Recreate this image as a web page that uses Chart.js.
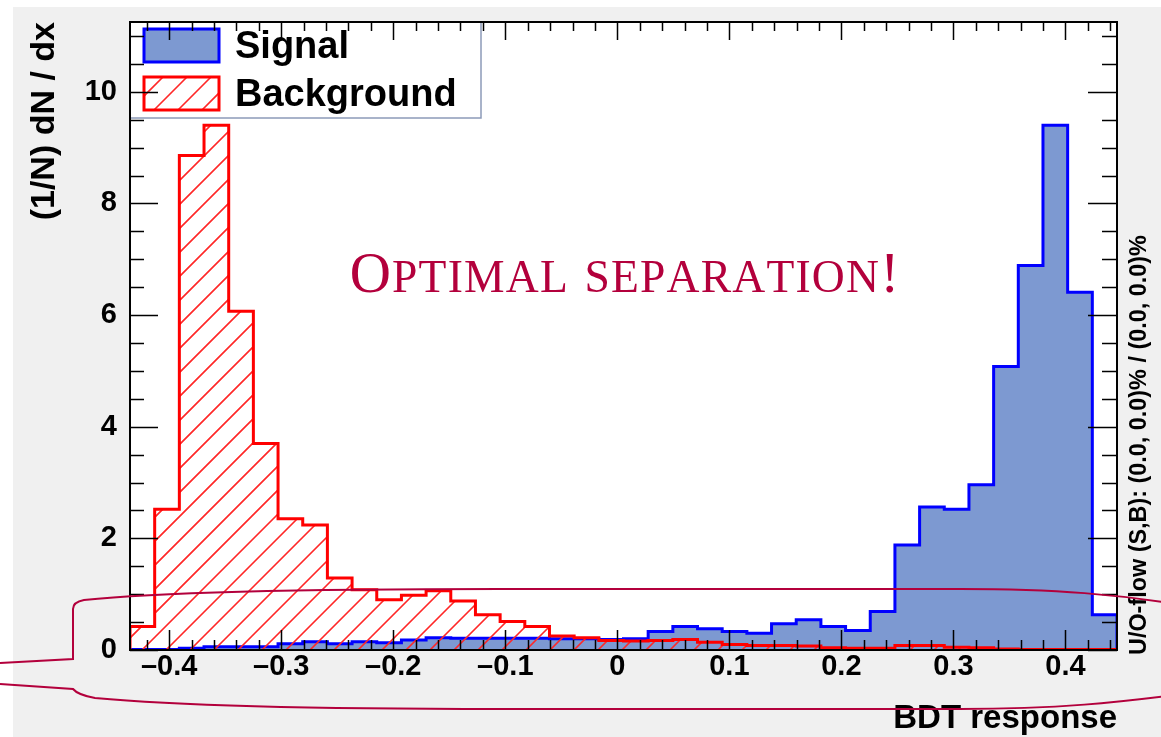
<!DOCTYPE html>
<html>
<head>
<meta charset="utf-8">
<title>BDT response</title>
<script src="https://cdn.jsdelivr.net/npm/chart.js@4.4.1/dist/chart.umd.min.js"></script>
<style>
  html, body { margin: 0; padding: 0; background: #fff; }
  canvas { display: block; }
</style>
</head>
<body>
<canvas id="bdtChart" width="1161" height="737"></canvas>
<script>
// BDT output, 40 bins between xMin and xMax
const xMin = -0.435;
const xMax = 0.446;

const seriesNames = ["Signal", "Background"];

const signalValues = [
  0.01, 0.01, 0.03, 0.06, 0.06, 0.06, 0.11, 0.15, 0.11, 0.15,
  0.13, 0.18, 0.22, 0.21, 0.21, 0.21, 0.21, 0.20, 0.20, 0.19,
  0.20, 0.33, 0.42, 0.38, 0.33, 0.30, 0.47, 0.54, 0.42, 0.35,
  0.69, 1.88, 2.56, 2.52, 2.96, 5.08, 6.89, 9.40, 6.41, 0.63
];

const backgroundValues = [
  0.42, 2.52, 8.86, 9.40, 6.07, 3.70, 2.35, 2.24, 1.29, 1.08,
  0.90, 0.98, 1.06, 0.88, 0.63, 0.51, 0.42, 0.25, 0.22, 0.17,
  0.16, 0.17, 0.19, 0.14, 0.10, 0.08, 0.08, 0.07, 0.04, 0.03,
  0.03, 0.08, 0.08, 0.05, 0.04, 0.02, 0.01, 0.01, 0.01, 0.01
];

const xTickValues = [-0.4, -0.3, -0.2, -0.1, 0, 0.1, 0.2, 0.3, 0.4];
const yTickValues = [0, 2, 4, 6, 8, 10];
const yMax = 11.25;

const xTitle = "BDT response";
const yTitle = "(1/N) dN / dx";
const flowText = "U/O-flow (S,B): (0.0, 0.0)% / (0.0, 0.0)%";
const noteText = "Optimal separation!";

const FONT = "'Liberation Sans', Arial, Helvetica, sans-serif";
const CRIMSON = "#b3003c";
const HATCH_STEP = 24;

// histogram outline: one point per lower bin edge, stepped
function histPoints(values) {
  const w = (xMax - xMin) / values.length;
  const pts = [{ x: xMin, y: 0 }];
  values.forEach((v, i) => pts.push({ x: xMin + i * w, y: v }));
  pts.push({ x: xMax, y: values[values.length - 1] });
  pts.push({ x: xMax, y: 0 });
  return pts;
}

// "/" hatching inside the current clip
function hatchLines(ctx, x0, y0, x1, y1) {
  ctx.save();
  ctx.strokeStyle = "rgb(255, 40, 40)";
  ctx.lineWidth = 1.6;
  ctx.beginPath();
  const cStart = Math.floor((x0 + y0) / HATCH_STEP) * HATCH_STEP;
  for (let c = cStart; c <= x1 + y1 + HATCH_STEP; c += HATCH_STEP) {
    ctx.moveTo(c - y1, y1);
    ctx.lineTo(c - y0, y0);
  }
  ctx.stroke();
  ctx.restore();
}

const decorPlugin = {
  id: "decor",
  beforeDraw(chart) {
    const ctx = chart.ctx;
    const a = chart.chartArea;
    ctx.save();
    ctx.fillStyle = "#f0f0f0";
    ctx.fillRect(13, 7, chart.width - 13, chart.height - 7);
    ctx.fillStyle = "#ffffff";
    ctx.fillRect(a.left, a.top, a.right - a.left, a.bottom - a.top);
    ctx.restore();
  },
  beforeDatasetDraw(chart, args) {
    const ds = chart.data.datasets[args.index];
    if (!ds.hatched) return;
    const ctx = chart.ctx;
    const a = chart.chartArea;
    ctx.save();
    ctx.beginPath();
    ctx.rect(a.left, a.top, a.right - a.left, a.bottom - a.top);
    ctx.clip();
    ctx.beginPath();
    args.meta.dataset.path(ctx);
    ctx.closePath();
    ctx.clip();
    hatchLines(ctx, a.left, a.top, a.right, a.bottom);
    ctx.restore();
  },
  afterDatasetsDraw(chart) {
    const ctx = chart.ctx;
    const a = chart.chartArea;
    const xs = chart.scales.x, ys = chart.scales.y;
    const ds = chart.data.datasets;

    // legend
    ctx.save();
    ctx.fillStyle = "#ffffff";
    ctx.fillRect(a.left, a.top, 351, 96);
    ctx.strokeStyle = "#8c9ab8";
    ctx.lineWidth = 1.5;
    ctx.strokeRect(a.left, a.top, 351, 96);
    const rows = [a.top + 7, a.top + 55];
    ds.forEach((d, i) => {
      const y0 = rows[i];
      if (d.hatched) {
        ctx.save();
        ctx.beginPath();
        ctx.rect(144, y0, 75, 33);
        ctx.clip();
        hatchLines(ctx, 144, y0, 219, y0 + 33);
        ctx.restore();
      } else {
        ctx.fillStyle = d.backgroundColor;
        ctx.fillRect(144, y0, 75, 33);
      }
      ctx.strokeStyle = d.borderColor;
      ctx.lineWidth = 3;
      ctx.strokeRect(144, y0, 75, 33);
      ctx.fillStyle = "#000";
      ctx.font = "bold 38px " + FONT;
      ctx.textBaseline = "alphabetic";
      ctx.textAlign = "left";
      ctx.fillText(d.label, 235, y0 + 29);
    });
    ctx.restore();

    // inward ticks on all four sides
    ctx.save();
    ctx.strokeStyle = "#000";
    ctx.lineWidth = 1.5;
    ctx.beginPath();
    for (let k = -22; k <= 22; k++) {
      const v = k * 0.02;
      if (v < xMin || v > xMax) continue;
      const px = Math.round(xs.getPixelForValue(v)) + 0.5;
      const major = k % 5 === 0;
      ctx.moveTo(px, a.bottom); ctx.lineTo(px, a.bottom - (major ? 20 : 10));
      ctx.moveTo(px, a.top); ctx.lineTo(px, a.top + (major ? 18 : 9));
    }
    for (let k = 0; k <= 22; k++) {
      const v = k * 0.5;
      if (v > yMax) continue;
      const py = Math.round(ys.getPixelForValue(v)) + 0.5;
      const major = k % 4 === 0;
      ctx.moveTo(a.left, py); ctx.lineTo(a.left + (major ? 28 : 14), py);
      ctx.moveTo(a.right, py); ctx.lineTo(a.right - (major ? 29 : 15), py);
    }
    ctx.stroke();
    ctx.lineWidth = 2;
    ctx.strokeRect(a.left, a.top, a.right - a.left, a.bottom - a.top);
    ctx.restore();
  },
  afterDraw(chart) {
    const ctx = chart.ctx;
    const a = chart.chartArea;
    ctx.save();

    // under/overflow note on the right
    ctx.translate(a.right + 23, a.bottom + 5);
    ctx.rotate(-Math.PI / 2);
    ctx.fillStyle = "#000";
    ctx.font = "bold 18px " + FONT;
    const fs = 18 * 420 / ctx.measureText(flowText).width;
    ctx.font = "bold " + fs.toFixed(1) + "px " + FONT;
    ctx.textAlign = "left";
    ctx.textBaseline = "middle";
    ctx.fillText(flowText, 0, 0);
    ctx.setTransform(1, 0, 0, 1, 0, 0);

    // small caps note
    const big = 57, small = 57 * 0.8, gap = 1.2;
    const parts = [];
    for (const ch of noteText) {
      const lower = ch !== ch.toUpperCase();
      parts.push({ t: ch.toUpperCase(), s: lower ? small : big });
    }
    let total = 0;
    parts.forEach(p => {
      ctx.font = p.s + "px 'Liberation Serif', 'DejaVu Serif', serif";
      p.w = ctx.measureText(p.t).width;
      total += p.w + gap;
    });
    let x = 625 - total / 2;
    ctx.fillStyle = CRIMSON;
    ctx.textBaseline = "alphabetic";
    ctx.textAlign = "left";
    parts.forEach(p => {
      ctx.font = p.s + "px 'Liberation Serif', 'DejaVu Serif', serif";
      ctx.fillText(p.t, x, 292);
      x += p.w + gap;
    });

    // speech-bubble outline around the x axis
    ctx.strokeStyle = CRIMSON;
    ctx.lineWidth = 2;
    ctx.beginPath();
    ctx.moveTo(0, 663);
    ctx.lineTo(73, 659);
    ctx.lineTo(73, 609);
    ctx.quadraticCurveTo(73, 602, 84, 600);
    ctx.bezierCurveTo(160, 592, 320, 589, 500, 589);
    ctx.lineTo(960, 589);
    ctx.bezierCurveTo(1060, 589, 1120, 595, 1175, 604);
    ctx.moveTo(0, 684);
    ctx.lineTo(73, 689);
    ctx.quadraticCurveTo(78, 695, 95, 698);
    ctx.bezierCurveTo(180, 706, 350, 709, 500, 709);
    ctx.lineTo(960, 709);
    ctx.bezierCurveTo(1060, 709, 1120, 702, 1175, 695);
    ctx.stroke();
    ctx.restore();
  }
};

const tickFont = { family: FONT, size: 29, weight: "bold" };

new Chart(document.getElementById("bdtChart").getContext("2d"), {
  type: "line",
  data: {
    datasets: [
      {
        label: seriesNames[0],
        data: histPoints(signalValues),
        borderColor: "#0000ff",
        backgroundColor: "#7d99d1",
        fill: "origin",
        order: 2
      },
      {
        label: seriesNames[1],
        data: histPoints(backgroundValues),
        borderColor: "#ff0000",
        backgroundColor: "rgba(0,0,0,0)",
        fill: false,
        hatched: true,
        order: 1
      }
    ]
  },
  options: {
    responsive: false,
    animation: false,
    devicePixelRatio: 1,
    layout: { padding: { left: 0, top: 22, right: 44, bottom: 0 } },
    elements: {
      line: { borderWidth: 3, stepped: true, tension: 0 },
      point: { radius: 0, hoverRadius: 0 }
    },
    plugins: {
      legend: { display: false },
      tooltip: { enabled: false }
    },
    scales: {
      x: {
        type: "linear",
        min: xMin,
        max: xMax,
        afterFit: s => { s.height = 87; s.paddingLeft = 0; s.paddingRight = 0; },
        afterBuildTicks: s => { s.ticks = xTickValues.map(v => ({ value: v })); },
        grid: { display: false, drawTicks: false },
        border: { display: false },
        ticks: {
          autoSkip: false,
          maxRotation: 0,
          padding: 0,
          color: "#000",
          font: tickFont,
          callback: v => v === 0 ? "0" : (v < 0 ? "\u2013" + Math.abs(v).toFixed(1) : v.toFixed(1))
        },
        title: {
          display: true,
          text: xTitle,
          align: "end",
          color: "#000",
          font: { family: FONT, size: 33, weight: "bold" },
          padding: { top: 0, bottom: -2 }
        }
      },
      y: {
        type: "linear",
        min: 0,
        max: yMax,
        afterFit: s => { s.width = 130; s.paddingTop = 0; s.paddingBottom = 0; },
        afterBuildTicks: s => { s.ticks = yTickValues.map(v => ({ value: v })); },
        grid: { display: false, drawTicks: false },
        border: { display: false },
        ticks: {
          padding: 13,
          color: "#000",
          font: tickFont
        },
        title: {
          display: true,
          text: yTitle,
          align: "end",
          color: "#000",
          font: { family: FONT, size: 34, weight: "bold" },
          padding: { top: 24, bottom: 0 }
        }
      }
    }
  },
  plugins: [decorPlugin]
});
</script>
</body>
</html>
